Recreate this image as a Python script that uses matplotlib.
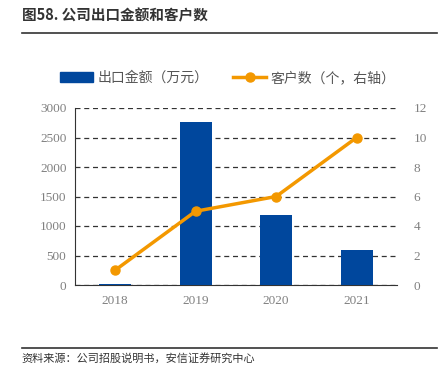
import numpy as np
import matplotlib
matplotlib.use("Agg")
import matplotlib.pyplot as plt
from matplotlib.lines import Line2D

plt.rcParams['font.family'] = ['Noto Sans CJK SC', 'DejaVu Sans']

# 数据
years = ['2018', '2019', '2020', '2021']
export_amount = [20, 2770, 1180, 600]   # 出口金额（万元）
customers = [1, 5, 6, 10]               # 客户数（个）

bar_color = '#00479D'
line_color = '#F39800'
tick_color = '#808080'

fig = plt.figure(figsize=(4.48, 3.75), dpi=100)
ax = fig.add_axes([0.167, 0.24, 0.719, 0.472])
ax2 = ax.twinx()

x = np.arange(len(years))
ax.bar(x, export_amount, width=0.4, color=bar_color, zorder=3)
ax2.plot(x, customers, color=line_color, lw=2.5, marker='o', ms=6.5, zorder=4)

ax.set_xlim(-0.5, 3.5)
ax.set_ylim(0, 3000)
ax.set_yticks(range(0, 3001, 500))
ax2.set_ylim(0, 12)
ax2.set_yticks(range(0, 13, 2))
ax.set_xticks(x)
ax.set_xticklabels(years)

ax.grid(axis='y', ls=(0, (4, 3)), color='#333333', lw=0.9, zorder=0)
for a in (ax, ax2):
    a.spines['top'].set_visible(False)
    a.spines['right'].set_visible(False)
    a.tick_params(length=0, labelsize=9.5, labelcolor=tick_color)
    for lab in a.get_xticklabels() + a.get_yticklabels():
        lab.set_fontfamily('Liberation Serif')
ax2.spines['left'].set_visible(False)
ax2.spines['bottom'].set_visible(False)
ax.spines['left'].set_color('#333333')
ax.spines['bottom'].set_color('#333333')
ax.tick_params(axis='x', pad=7)
ax.tick_params(axis='y', pad=6)
ax2.tick_params(axis='y', pad=12)
ax2.set_zorder(ax.get_zorder() + 1)
ax2.patch.set_visible(False)

# 图例
handles = [
    plt.Rectangle((0, 0), 1, 1, color=bar_color),
    Line2D([0], [0], color=line_color, lw=2.5, marker='o', ms=6.5),
]
fig.legend(handles, ['出口金额（万元）', '客户数（个，右轴）'],
           loc='center', bbox_to_anchor=(0.508, 0.792), ncol=2, frameon=False,
           fontsize=10, labelcolor='#555555', handlelength=2.4,
           columnspacing=1.8, handletextpad=0.3)

# 标题与来源
fig.text(0.049, 0.96, '图58. 公司出口金额和客户数', fontsize=10.5, fontweight='bold',
         color='#333333', va='center')
fig.add_artist(Line2D([0.049, 0.975], [0.912, 0.912], color='#333333', lw=1.2))
fig.add_artist(Line2D([0.049, 0.975], [0.072, 0.072], color='#333333', lw=1.2))
fig.text(0.049, 0.045, '资料来源：公司招股说明书，安信证券研究中心', fontsize=8,
         style='italic', color='#333333', va='center')

fig.savefig('out.png', dpi=100)
